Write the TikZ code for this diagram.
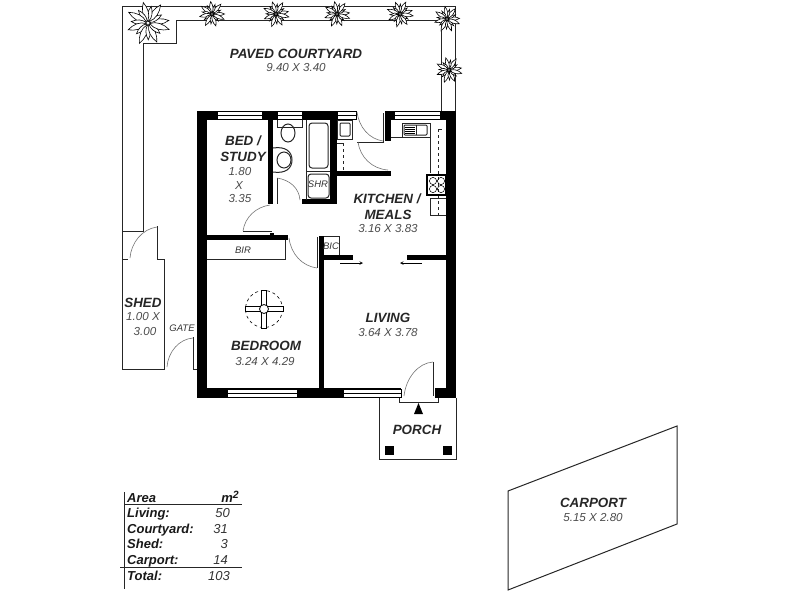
\documentclass[tikz,border=0pt]{standalone}
\usepackage{fontspec}
\setmainfont{Liberation Sans}
\usetikzlibrary{calc}
\tikzset{
  wall/.style={fill=black},
  thin line/.style={draw=black!85,line width=1pt},
  swing/.style={draw=black!55,line width=.6pt},
  room/.style={inner sep=0pt,text=black!85,font=\bfseries\itshape\fontsize{13.4}{15}\selectfont},
  dim/.style={inner sep=0pt,text=black!70,font=\itshape\fontsize{11.6}{13}\selectfont},
  small/.style={inner sep=0pt,text=black!80,font=\itshape\fontsize{9.5}{11}\selectfont},
  area/.style={inner sep=0pt,text=black!90,font=\bfseries\itshape\fontsize{13}{15}\selectfont},
  areanum/.style={inner sep=0pt,text=black!80,font=\itshape\fontsize{13}{15}\selectfont},
  windowbox/.style={fill=white,draw=black,line width=.7pt},
  leaf/.style={fill=white,draw=black,line width=.6pt},
}
\newcommand{\windowh}[3]{% x1, x2, top y
  \draw[windowbox] (#1,#3) rectangle (#2,#3+8.5);
  \draw[line width=.7pt] (#1,#3+4.2) -- (#2,#3+4.2);
}
\newcommand{\plant}[4]{% x, y, size, turn
  \foreach \a/\r in {0/1,24/.75,48/1.05,72/.8,96/1,120/.75,144/1.05,168/.8,192/1,216/.75,240/1.05,264/.8,288/1,312/.75,336/1.05}
    \draw[leaf,shift={(#1,#2)},rotate=\a+#4,scale=#3*\r] (.08,0) .. controls (.35,.2) and (.7,.16) .. (1,0) .. controls (.7,-.16) and (.35,-.2) .. (.08,0);
}
\begin{document}
\begin{tikzpicture}[x=1pt,y=-1pt]
\useasboundingbox (0,0) rectangle (800,600);

% courtyard and shed
\draw[thin line] (122,369) -- (122,6) -- (455,6) -- (455,111);
\draw[thin line] (143,232) -- (143,43) -- (176,43) -- (176,20) -- (441,20) -- (441,111);
\draw[thin line] (122,231) -- (143,231);
\draw[thin line] (122,259) -- (128,259);
\draw[thin line] (157,226) -- (157,259) -- (164,259) -- (164,369) -- (122,369);
\draw[swing] (157,227) .. controls (142,229) and (131,243) .. (130,258);
\draw[thin line] (193,337) -- (193,369) -- (197,369);
\draw[swing] (193,338) .. controls (179,339) and (168,352) .. (167,367);

% walls
\fill[wall] (197,111) rectangle (207,398);
\fill[wall] (197,111) rectangle (356,120);
\fill[wall] (385,111) rectangle (456,120);
\fill[wall] (446,111) rectangle (456,398);
\fill[wall] (197,388) rectangle (401,398);
\fill[wall] (435,388) rectangle (456,398);
\fill[wall] (268,111) rectangle (273,204);
\fill[wall] (330,111) rectangle (337,204);
\fill[wall] (302,199) rectangle (337,204);
\fill[wall] (337,171) rectangle (391,176);
\fill[wall] (207,235) rectangle (288,240);
\fill[wall] (270,233) rectangle (274,236);
\fill[wall] (319,236) rectangle (324,388);
\fill[wall] (319,255) rectangle (353,260);
\fill[wall] (407,255) rectangle (446,260);
\fill[wall] (385,111) rectangle (391,141);

% windows
\windowh{217}{262}{111}
\windowh{277}{302}{111}
\windowh{337}{356}{111}
\windowh{394}{440}{111}
\windowh{227}{297}{389}
\windowh{343}{401}{389}

% doors
\draw[thin line] (277,178) -- (277,204);
\draw[swing] (277,178) .. controls (290,180) and (299,188) .. (300,200);
\draw[thin line] (243,231) -- (272,231);
\draw[swing] (243,231) .. controls (245,217) and (256,207) .. (270,205);
\draw[thin line] (317,237) -- (317,268);
\draw[swing] (289,238) .. controls (291,254) and (302,266) .. (317,268);
\draw[thin line] (383,113) -- (383,142) -- (357,142);
\draw[swing] (357,112) .. controls (359,127) and (369,139) .. (383,141);
\draw[swing] (358,142) .. controls (360,157) and (372,169) .. (388,170);
\draw[thin line] (433,362) -- (433,396);
\draw[swing] (433,362) .. controls (418,363) and (406,378) .. (404,396);
\draw[thin line] (399,398) -- (399,402) -- (438,402) -- (438,398);
\draw[->,>=stealth,line width=.6pt] (340,263) -- (363,263);
\draw[->,>=stealth,line width=.6pt] (422,263) -- (400,263);

% built in robes
\draw[thin line] (207,259) -- (285,259) -- (285,240);
\draw[thin line] (324,236) -- (339,236) -- (339,255);

% bathroom
\draw[thin line] (306,120) -- (306,200);
\draw[thin line] (306,171) -- (330,171);
\draw[thin line,rounded corners=3pt] (309,123) rectangle (328,168);
\draw[thin line,rounded corners=3pt] (308,174) rectangle (329,198);
\draw[thin line] (277,120) -- (277,127) -- (302,127) -- (302,120);
\draw[thin line] (288,133) ellipse[x radius=7,y radius=9];
\draw[thin line] (273,148) .. controls (286,146) and (292,152) .. (292,160) .. controls (292,168) and (286,174) .. (273,172);
\draw[thin line] (284,160) ellipse[x radius=7,y radius=8];
\draw[thin line] (337,120) rectangle (352,139);
\draw[thin line,rounded corners=1pt] (340,123) rectangle (350,136);
\draw[thin line,dashed] (343,143) -- (343,171);
\draw[thin line] (337,143) -- (343,143);

% kitchen
\draw[thin line] (391,137) -- (430,137) -- (430,173);
\draw[thin line] (402,123) rectangle (430,137);
\draw[thin line,rounded corners=1pt] (404,125) rectangle (427,135);
\draw[thin line] (416,125) -- (416,135);
\foreach \ysink in {127,129,131,133}
  \draw[line width=.4pt] (405,\ysink) -- (415,\ysink);
\draw[thin line,dashed] (438,129) -- (438,215);
\draw[thin line] (438,129) -- (442,129);
\draw[line width=1.3pt] (427,175) rectangle (446,195);
\foreach \xhob in {433,441}
  \foreach \yhob in {181,189}
    \draw[line width=.5pt] (\xhob,\yhob) circle[radius=3.6];
\draw[thin line] (446,198) -- (430,198) -- (430,215) -- (446,215);

% ceiling fan
\draw[line width=.6pt,dashed] (264,309) circle[radius=18.5];
\foreach \a in {0,90,180,270}
  \draw[line width=.8pt,fill=white,rotate around={\a:(264,309)}] (267,306.5) rectangle (283,311.5);
\draw[line width=.8pt,fill=white] (264,309) circle[radius=4.5];

% porch
\draw[thin line] (379,398) -- (379,459) -- (456,459) -- (456,398);
\fill[wall] (418.5,403) -- (423,414) -- (414,414) -- cycle;
\fill[wall] (385,446) rectangle (394,455);
\fill[wall] (443,446) rectangle (452,455);

% plants
\plant{148}{23}{21}{7}
\plant{212}{14}{12.5}{0}
\plant{276}{14}{12.5}{11}
\plant{337}{14}{12.5}{5}
\plant{400}{14}{12.5}{16}
\plant{447}{19}{12.5}{3}
\plant{449}{70}{12.5}{9}

% carport
\draw[thin line] (508,491) -- (677,426) -- (677,524) -- (508,590) -- cycle;

% labels
\node[room] (courtyardname) at (296,54) {PAVED COURTYARD};
\node[dim] (courtyarddim) at (296,68) {9.40 X 3.40};
\node[room] (bedname) at (243,141) {BED /};
\node[room] (studyname) at (243,157) {STUDY};
\node[dim] (beddimw) at (240,172) {1.80};
\node[dim] (beddimx) at (239,186) {X};
\node[dim] (beddimh) at (240,199) {3.35};
\node[room] (kitchenname) at (387,199) {KITCHEN /};
\node[room] (mealsname) at (388,215) {MEALS};
\node[dim] (kitchendim) at (388,229) {3.16 X 3.83};
\node[room] (livingname) at (388,318) {LIVING};
\node[dim] (livingdim) at (388,333) {3.64 X 3.78};
\node[room] (bedroomname) at (266,346) {BEDROOM};
\node[dim] (bedroomdim) at (265,361) {3.24 X 4.29};
\node[room] (shedname) at (143,303) {SHED};
\node[dim] (sheddimw) at (143,317) {1.00 X};
\node[dim] (sheddimh) at (145,331) {3.00};
\node[room] (porchname) at (417,430) {PORCH};
\node[room] (carportname) at (593,503) {CARPORT};
\node[dim] (carportdim) at (593,517) {5.15 X 2.80};
\node[small] (gatename) at (182,328) {GATE};
\node[small] (birname) at (243,250) {BIR};
\node[small] (bicname) at (331,246) {BIC};
\node[small] (shrname) at (318,184) {SHR};

% area table
\draw[thin line] (124,492) -- (124,589);
\draw[thin line] (124,504) -- (242,504);
\draw[thin line] (120,567) -- (242,567);
\node[area,anchor=base west] (areahead) at (127,502) {Area};
\node[area,anchor=base east] (areaunit) at (239,502) {m\raisebox{3.5pt}{\fontsize{10.5}{12}\selectfont 2}};
\node[area,anchor=base west] (arealiving) at (127,517) {Living:};
\node[areanum,anchor=base east] (numliving) at (230,517) {50};
\node[area,anchor=base west] (areacourt) at (127,533) {Courtyard:};
\node[areanum,anchor=base east] (numcourt) at (228,533) {31};
\node[area,anchor=base west] (areashed) at (127,548) {Shed:};
\node[areanum,anchor=base east] (numshed) at (228,548) {3};
\node[area,anchor=base west] (areacarport) at (127,564) {Carport:};
\node[areanum,anchor=base east] (numcarport) at (228,564) {14};
\node[area,anchor=base west] (areatotal) at (127,580) {Total:};
\node[areanum,anchor=base east] (numtotal) at (230,580) {103};
\end{tikzpicture}
\end{document}
